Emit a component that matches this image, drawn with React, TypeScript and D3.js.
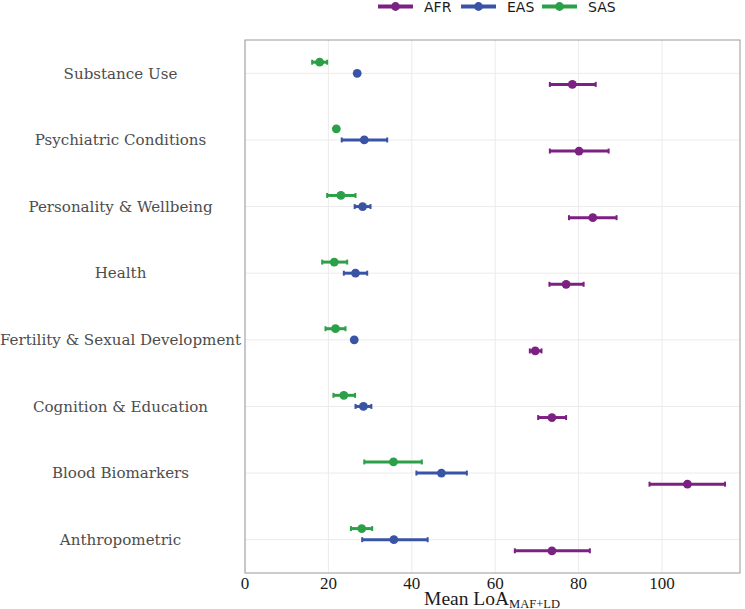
import React from 'react';
import * as d3 from 'd3';

// trait domains, top to bottom
const categories = [
  'Substance Use',
  'Psychiatric Conditions',
  'Personality & Wellbeing',
  'Health',
  'Fertility & Sexual Development',
  'Cognition & Education',
  'Blood Biomarkers',
  'Anthropometric',
];

const ancestries = ['AFR', 'EAS', 'SAS'];

// mean LoA and interval bounds per ancestry, in category order
const afrMean = [78.5, 80.1, 83.4, 77.0, 69.6, 73.6, 106.1, 73.6];
const afrLow = [73.1, 73.1, 77.7, 73.0, 68.3, 70.3, 97.0, 64.7];
const afrHigh = [84.1, 87.2, 89.1, 81.2, 71.1, 77.0, 115.1, 82.7];

const easMean = [26.9, 28.6, 28.2, 26.5, 26.2, 28.4, 47.1, 35.7];
const easLow = [26.5, 23.2, 26.3, 23.7, 25.9, 26.5, 41.1, 28.1];
const easHigh = [27.3, 34.1, 30.1, 29.3, 26.5, 30.3, 53.2, 43.8];

const sasMean = [17.9, 21.9, 23.0, 21.4, 21.7, 23.7, 35.6, 28.0];
const sasLow = [16.1, 21.6, 19.7, 18.5, 19.3, 21.2, 28.6, 25.4];
const sasHigh = [19.7, 22.2, 26.5, 24.5, 24.1, 26.4, 42.4, 30.5];

const xTicks = [0, 20, 40, 60, 80, 100];

const colors: Record<string, string> = {
  AFR: '#7b2182',
  EAS: '#3953a5',
  SAS: '#2ca048',
};

const seriesData: Record<string, { mean: number[]; low: number[]; high: number[] }> = {
  AFR: { mean: afrMean, low: afrLow, high: afrHigh },
  EAS: { mean: easMean, low: easLow, high: easHigh },
  SAS: { mean: sasMean, low: sasLow, high: sasHigh },
};

const W = 745;
const H = 609;
const panel = { left: 245, right: 740, top: 40, bottom: 573 };

export default function App() {
  const x = d3.scaleLinear().domain([0, 118.7]).range([panel.left, panel.right]);
  const y = d3.scalePoint<string>().domain(categories).range([panel.top, panel.bottom]).padding(0.5);
  const step = y.step();
  // dodge within each category: SAS on top, AFR at the bottom
  const dodge = d3
    .scaleBand<string>()
    .domain(['SAS', 'EAS', 'AFR'])
    .range([-step * 0.25, step * 0.25]);
  const dy = (s: string) => (dodge(s) as number) + dodge.bandwidth() / 2;

  const legendX = [378, 461, 542];

  return (
    <svg width={W} height={H} style={{ position: 'absolute', left: 0, top: 0, background: '#fff' }}>
      {/* grid */}
      {xTicks.map((t) => (
        <line key={'gx' + t} x1={x(t)} x2={x(t)} y1={panel.top} y2={panel.bottom} stroke="#ebebeb" strokeWidth={1} />
      ))}
      {categories.map((c) => (
        <line key={'gy' + c} x1={panel.left} x2={panel.right} y1={y(c)} y2={y(c)} stroke="#ebebeb" strokeWidth={1} />
      ))}

      {/* error bars and points */}
      {ancestries.map((s) => {
        const d = seriesData[s];
        return (
          <g key={s} fill={colors[s]} stroke={colors[s]}>
            {categories.map((c, i) => {
              const cy = (y(c) as number) + dy(s);
              const x0 = x(d.low[i]);
              const x1 = x(d.high[i]);
              return (
                <g key={c}>
                  <line x1={x0} x2={x1} y1={cy} y2={cy} strokeWidth={3} />
                  <line x1={x0} x2={x0} y1={cy - 2.5} y2={cy + 2.5} strokeWidth={2} />
                  <line x1={x1} x2={x1} y1={cy - 2.5} y2={cy + 2.5} strokeWidth={2} />
                  <circle cx={x(d.mean[i])} cy={cy} r={4.4} stroke="none" />
                </g>
              );
            })}
          </g>
        );
      })}

      {/* panel border */}
      <rect
        x={panel.left}
        y={panel.top}
        width={panel.right - panel.left}
        height={panel.bottom - panel.top}
        fill="none"
        stroke="#999"
        strokeWidth={1}
      />

      {/* y labels */}
      {categories.map((c) => (
        <text
          key={'yl' + c}
          x={120.5}
          y={y(c)}
          dy="0.35em"
          textAnchor="middle"
          fontFamily="DejaVu Serif"
          fontSize={15.1}
          fill="#4d4d4d"
        >
          {c}
        </text>
      ))}

      {/* x tick labels */}
      {xTicks.map((t) => (
        <text
          key={'xl' + t}
          x={x(t)}
          y={589}
          textAnchor="middle"
          fontFamily="Liberation Serif"
          fontSize={17}
          fill="#1a1a1a"
        >
          {t}
        </text>
      ))}

      {/* axis title */}
      <text x={492} y={605} textAnchor="middle" fontFamily="Liberation Serif" fontSize={19.5} fill="#1a1a1a">
        Mean LoA
        <tspan fontSize={12.5} dy={2.5}>
          MAF+LD
        </tspan>
      </text>

      {/* legend */}
      {ancestries.map((s, i) => (
        <g key={'lg' + s}>
          <line x1={legendX[i]} x2={legendX[i] + 35} y1={6.5} y2={6.5} stroke={colors[s]} strokeWidth={4} />
          <circle cx={legendX[i] + 17.5} cy={6.5} r={4.4} fill={colors[s]} />
          <text x={legendX[i] + 46} y={6.5} dy="0.36em" fontFamily="DejaVu Sans" fontSize={14} fill="#1a1a1a">
            {s}
          </text>
        </g>
      ))}
    </svg>
  );
}
